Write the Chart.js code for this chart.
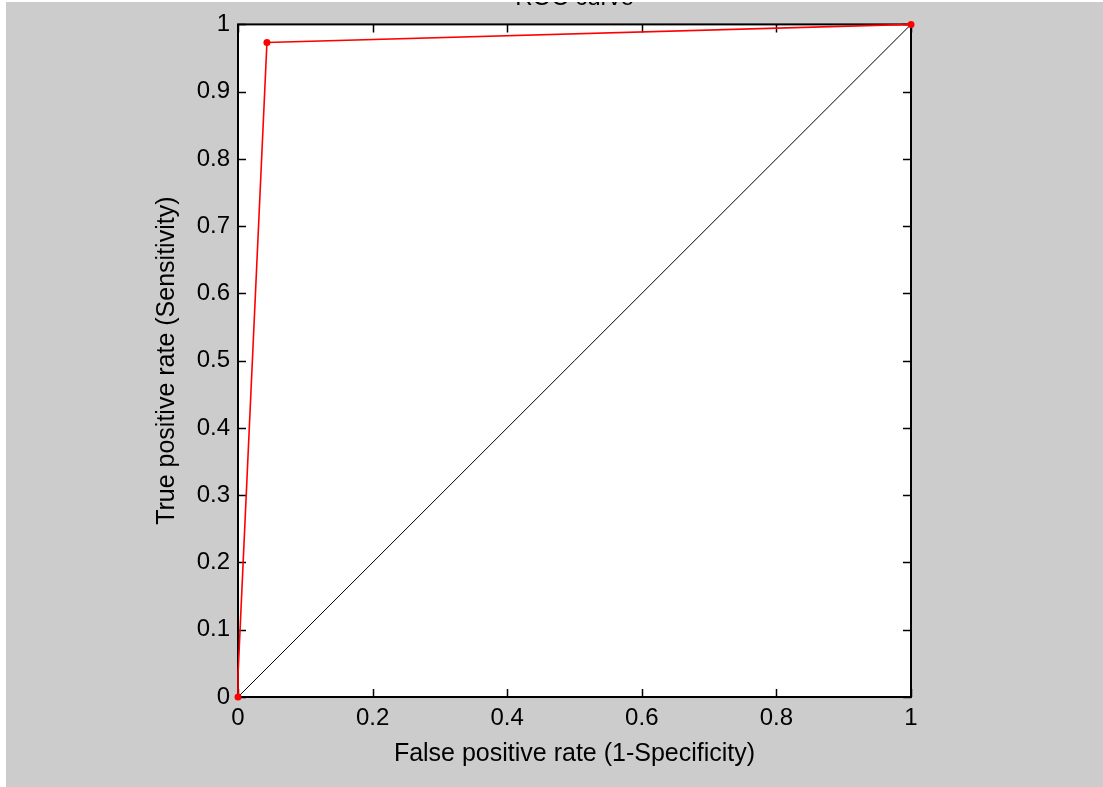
<!doctype html>
<html lang="en">
  <head>
    <meta charset="utf-8">
    <title>ROC curve</title>
    <style>
      * {
        margin: 0;
        padding: 0;
      }
      body {
        background: #fff;
        width: 1103px;
        height: 787px;
        overflow: hidden;
      }
      .chartCard {
        position: absolute;
        left: 6px;
        top: 2px;
        width: 1097px;
        height: 785px;
        background: #cccccc;
      }
    </style>
  </head>
  <body>
    <div class="chartCard">
      <canvas id="myChart" width="1097" height="785"></canvas>
    </div>
    <script src="https://cdn.jsdelivr.net/npm/chart.js/dist/chart.umd.min.js"></script>
    <script>
    // data
    const fpr = [0, 0, 0.043, 1];
    const tpr = [0, 0.033, 0.973, 1];
    const markerSize = [3.5, 0, 3.5, 3.5];
    const chanceFpr = [0, 1];
    const chanceTpr = [0, 1];
    const xTicks = [0, 0.2, 0.4, 0.6, 0.8, 1];
    const yTicks = [0, 0.1, 0.2, 0.3, 0.4, 0.5, 0.6, 0.7, 0.8, 0.9, 1];
    const titleText = 'ROC curve';
    const xTitle = 'False positive rate (1-Specificity)';
    const yTitle = 'True positive rate (Sensitivity)';

    const FONT = '"Liberation Sans", Arial, sans-serif';

    // white axes box, outline and inward ticks (matlab style)
    const axesBox = {
      id: 'axesBox',
      beforeDatasetsDraw(chart) {
        const {ctx, chartArea: a, scales: {x, y}} = chart;
        ctx.save();
        ctx.fillStyle = '#fff';
        ctx.fillRect(a.left, a.top, a.right - a.left, a.bottom - a.top);
        ctx.strokeStyle = '#000';
        ctx.lineWidth = 1.5;
        ctx.beginPath();
        xTicks.forEach(v => {
          const px = Math.round(x.getPixelForValue(v)) + 0.5;
          ctx.moveTo(px, a.bottom); ctx.lineTo(px, a.bottom - 8);
          ctx.moveTo(px, a.top); ctx.lineTo(px, a.top + 8);
        });
        yTicks.forEach(v => {
          const py = Math.round(y.getPixelForValue(v)) + 0.5;
          ctx.moveTo(a.left, py); ctx.lineTo(a.left + 8, py);
          ctx.moveTo(a.right, py); ctx.lineTo(a.right - 8, py);
        });
        ctx.stroke();
        ctx.lineWidth = 2;
        ctx.strokeRect(a.left, a.top, a.right - a.left, a.bottom - a.top);
        ctx.restore();
      },
      afterDraw(chart) {
        const {ctx, chartArea: a} = chart;
        ctx.save();
        ctx.fillStyle = '#000';
        ctx.font = '24px ' + FONT;
        ctx.textAlign = 'center';
        ctx.textBaseline = 'alphabetic';
        ctx.fillText(titleText, (a.left + a.right) / 2, 3);
        ctx.restore();
      }
    };

    const data = {
      datasets: [{
        label: 'ROC',
        data: fpr.map((v, i) => ({x: v, y: tpr[i]})),
        borderColor: '#ff0000',
        backgroundColor: '#ff0000',
        borderWidth: 1.6,
        pointRadius: markerSize,
        pointBorderWidth: 0,
        pointHoverRadius: 0,
        clip: false,
        order: 0
      }, {
        label: 'chance',
        data: chanceFpr.map((v, i) => ({x: v, y: chanceTpr[i]})),
        borderColor: '#000',
        borderWidth: 1,
        pointRadius: 0,
        order: 1
      }]
    };

    const config = {
      type: 'scatter',
      data,
      options: {
        responsive: false,
        animation: false,
        showLine: true,
        layout: {
          padding: {left: 0, top: 19, right: 192, bottom: 0}
        },
        plugins: {
          legend: {display: false},
          tooltip: {enabled: false}
        },
        scales: {
          x: {
            type: 'linear',
            min: 0,
            max: 1,
            afterBuildTicks: s => { s.ticks = xTicks.map(v => ({value: v})); },
            afterFit: s => { s.height = 90; },
            grid: {display: false, drawTicks: false, tickLength: 0},
            border: {display: false},
            ticks: {
              color: '#000',
              padding: 7,
              font: {family: FONT, size: 24},
              callback: v => String(v)
            },
            title: {
              display: true,
              text: xTitle,
              color: '#000',
              padding: {top: 0, bottom: 18},
              font: {family: FONT, size: 25}
            }
          },
          y: {
            type: 'linear',
            min: 0,
            max: 1,
            afterBuildTicks: s => { s.ticks = yTicks.map(v => ({value: v})); },
            afterFit: s => { s.width = 232; },
            grid: {display: false, drawTicks: false, tickLength: 0},
            border: {display: false},
            ticks: {
              color: '#000',
              padding: 8,
              font: {family: FONT, size: 24},
              callback: v => String(v)
            },
            title: {
              display: true,
              text: yTitle,
              color: '#000',
              padding: {top: 146, bottom: 0},
              font: {family: FONT, size: 25}
            }
          }
        }
      },
      plugins: [axesBox]
    };

    const myChart = new Chart(
      document.getElementById('myChart'),
      config
    );
    </script>
  </body>
</html>
